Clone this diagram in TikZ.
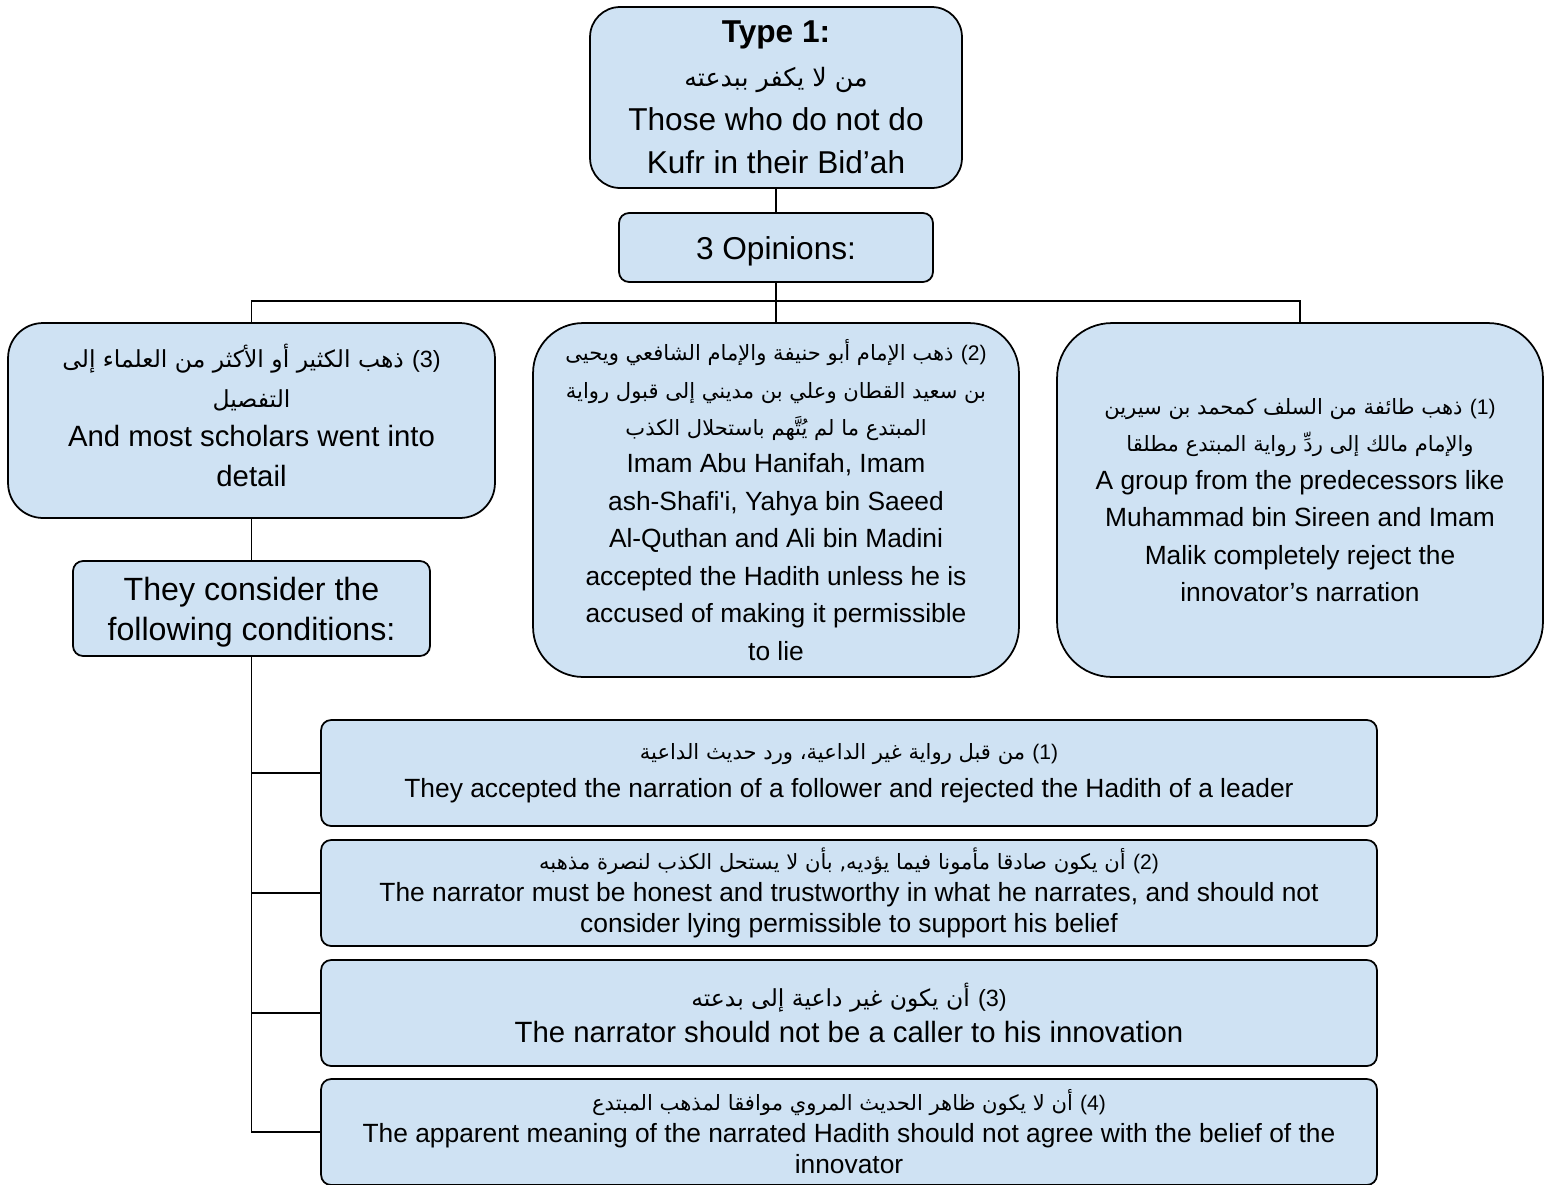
\documentclass[tikz,border=0pt]{standalone}
\usepackage{fontspec}
\setmainfont{Liberation Sans}[Ligatures=TeXOff]
\newfontfamily\arabicfont[Script=Arabic,Scale=0.8]{DejaVu Sans}
\newfontfamily\numfont[Scale=0.8]{Liberation Sans}
\TeXXeTstate=1
\usetikzlibrary{positioning}
\definecolor{boxblue}{HTML}{CFE2F3}
\newcommand{\arn}[1]{\ {\numfont(#1)}}

\begin{document}
\begin{tikzpicture}[x=0.02cm, y=-0.02cm,
    box/.style={draw=black, line width=1pt, fill=boxblue, align=center, inner sep=0pt},
    link/.style={line width=0.8pt}]
\useasboundingbox (0,0) rectangle (1544,1184);
\node[box, rounded corners=0.6cm, minimum width=7.44cm, minimum height=3.62cm,
      font=\fontsize{18}{24.9}\selectfont] (type) at (776,97.5)
      {\textbf{Type 1:}\\ {\arabicfont\beginR من لا يكفر ببدعته\endR}\\ Those who do not do\\ Kufr in their Bid’ah};
\node[box, rounded corners=0.2cm, minimum width=6.28cm, minimum height=1.38cm,
      text height=17pt, font=\fontsize{18}{24.9}\selectfont] (opinions) at (776,247.5) {3 Opinions:};
\node[box, rounded corners=0.7cm, minimum width=9.74cm, minimum height=3.9cm,
      font=\fontsize{16.7}{22.7}\selectfont] (op3) at (251.5,420.5)
      {{\arabicfont\beginR ذهب الكثير أو الأكثر من العلماء إلى\endR}\arn{3}\\
       {\arabicfont\beginR التفصيل\endR}\\
       And most scholars went into\\ detail\rule[-6pt]{0pt}{1pt}};
\node[box, rounded corners=1cm, minimum width=9.72cm, minimum height=7.08cm,
      font=\fontsize{15}{21.3}\selectfont] (op2) at (776,500)
      {{\arabicfont\beginR ذهب الإمام أبو حنيفة والإمام الشافعي ويحيى\endR}\arn{2}\\
       {\arabicfont\beginR بن سعيد القطان وعلي بن مديني إلى قبول رواية\endR}\\
       {\arabicfont\beginR المبتدع ما لم يُتَّهم باستحلال الكذب\endR}\\
       Imam Abu Hanifah, Imam\\ ash-Shafi'i, Yahya bin Saeed\\
       Al-Quthan and Ali bin Madini\\ accepted the Hadith unless he is\\
       accused of making it permissible\\ to lie};
\node[box, rounded corners=1.1cm, minimum width=9.72cm, minimum height=7.08cm,
      font=\fontsize{15}{21.3}\selectfont] (op1) at (1300,500)
      {{\arabicfont\beginR ذهب طائفة من السلف كمحمد بن سيرين\endR}\arn{1}\\
       {\arabicfont\beginR والإمام مالك إلى ردِّ رواية المبتدع مطلقا\endR}\\
       A group from the predecessors like\\ Muhammad bin Sireen and Imam\\
       Malik completely reject the\\ innovator’s narration};
\node[box, rounded corners=0.2cm, minimum width=7.14cm, minimum height=1.9cm,
      font=\fontsize{18.3}{22.7}\selectfont] (consider) at (251.5,608.5)
      {\rule{0pt}{17pt}They consider the\\ following conditions:};
\node[box, rounded corners=0.2cm, minimum width=21.12cm, minimum height=2.12cm,
      font=\fontsize{15}{21.5}\selectfont] (cond1) at (849,773)
      {{\arabicfont\beginR من قبل رواية غير الداعية، ورد حديث الداعية\endR}\arn{1}\\
       They accepted the narration of a follower and rejected the Hadith of a leader};
\node[box, rounded corners=0.2cm, minimum width=21.12cm, minimum height=2.12cm,
      font=\fontsize{15}{17.9}\selectfont] (cond2) at (849,893)
      {{\arabicfont\beginR أن يكون صادقا مأمونا فيما يؤديه, بأن لا يستحل الكذب لنصرة مذهبه\endR}\arn{2}\\
       The narrator must be honest and trustworthy in what he narrates, and should not\\
       consider lying permissible to support his belief};
\node[box, rounded corners=0.2cm, minimum width=21.12cm, minimum height=2.12cm,
      font=\fontsize{16.7}{20.4}\selectfont] (cond3) at (849,1013)
      {{\arabicfont\beginR أن يكون غير داعية إلى بدعته\endR}\arn{3}\\
       The narrator should not be a caller to his innovation};
\node[box, rounded corners=0.2cm, minimum width=21.12cm, minimum height=2.12cm,
      font=\fontsize{15}{17.9}\selectfont] (cond4) at (849,1132)
      {{\arabicfont\beginR أن لا يكون ظاهر الحديث المروي موافقا لمذهب المبتدع\endR}\arn{4}\\
       The apparent meaning of the narrated Hadith should not agree with the belief of the\\
       innovator};
\draw[link] (type) -- (opinions);
\draw[link] (opinions) -- (op2);
\draw[link] (op3.north) -- ++(0,-21) -| (op1.north);
\draw[link] (op3) -- (consider);
\foreach \c in {cond1,cond2,cond3,cond4}
  \draw[link] (consider.south) |- (\c.west);
\end{tikzpicture}
\end{document}
